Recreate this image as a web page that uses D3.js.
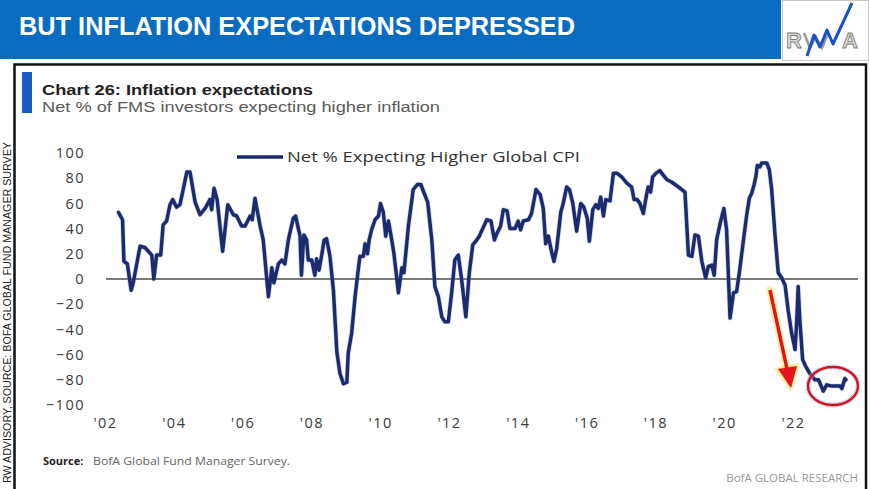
<!DOCTYPE html>
<html>
<head>
<meta charset="utf-8">
<script src="https://cdn.jsdelivr.net/npm/d3@7"></script>
<style>
  html, body { margin: 0; padding: 0; background: #fff; }
  svg { display: block; }
</style>
</head>
<body>
<svg id="chart" width="870" height="489"></svg>
<script>
// ---- data ----
const years = [
  2002.39, 2002.51, 2002.55, 2002.65, 2002.76, 2002.82, 2003.02, 2003.16, 2003.36, 2003.42,
  2003.50, 2003.62, 2003.69, 2003.79, 2003.89, 2003.97, 2004.08, 2004.18, 2004.38, 2004.47,
  2004.62, 2004.76, 2004.91, 2005.05, 2005.10, 2005.17, 2005.26, 2005.42, 2005.57, 2005.73,
  2005.83, 2005.97, 2006.07, 2006.22, 2006.28, 2006.36, 2006.51, 2006.60, 2006.75, 2006.85,
  2006.91, 2007.04, 2007.14, 2007.23, 2007.33, 2007.47, 2007.54, 2007.67, 2007.71, 2007.78,
  2007.86, 2007.91, 2008.01, 2008.10, 2008.15, 2008.22, 2008.30, 2008.37, 2008.44, 2008.54,
  2008.64, 2008.74, 2008.83, 2008.93, 2009.03, 2009.07, 2009.17, 2009.27, 2009.36, 2009.41,
  2009.51, 2009.56, 2009.63, 2009.68, 2009.75, 2009.85, 2009.95, 2010.01, 2010.09, 2010.16,
  2010.24, 2010.31, 2010.40, 2010.53, 2010.63, 2010.69, 2010.82, 2010.96, 2011.08, 2011.18,
  2011.28, 2011.38, 2011.50, 2011.59, 2011.69, 2011.79, 2011.88, 2011.98, 2012.08, 2012.17,
  2012.27, 2012.37, 2012.49, 2012.59, 2012.69, 2012.78, 2012.88, 2012.98, 2013.10, 2013.22,
  2013.32, 2013.39, 2013.50, 2013.58, 2013.69, 2013.77, 2013.92, 2014.01, 2014.08, 2014.16,
  2014.31, 2014.40, 2014.53, 2014.65, 2014.74, 2014.81, 2014.89, 2014.97, 2015.05, 2015.13,
  2015.25, 2015.32, 2015.42, 2015.50, 2015.60, 2015.71, 2015.83, 2015.92, 2016.02, 2016.08,
  2016.18, 2016.27, 2016.34, 2016.41, 2016.49, 2016.56, 2016.68, 2016.78, 2016.88, 2017.02,
  2017.17, 2017.31, 2017.38, 2017.47, 2017.55, 2017.65, 2017.73, 2017.79, 2017.86, 2017.92,
  2018.02, 2018.13, 2018.21, 2018.33, 2018.47, 2018.57, 2018.72, 2018.86, 2018.96, 2019.06,
  2019.15, 2019.25, 2019.35, 2019.46, 2019.54, 2019.64, 2019.71, 2019.78, 2019.88, 2019.99,
  2020.07, 2020.17, 2020.27, 2020.36, 2020.44, 2020.56, 2020.65, 2020.73, 2020.80, 2020.87,
  2020.92, 2020.96, 2021.04, 2021.09, 2021.24, 2021.31, 2021.38, 2021.48, 2021.57, 2021.67,
  2021.77, 2021.86, 2021.96, 2022.06, 2022.11, 2022.15, 2022.20, 2022.28, 2022.38, 2022.49,
  2022.64, 2022.74, 2022.88, 2022.98, 2023.13, 2023.27, 2023.37, 2023.42, 2023.51, 2023.54
];
const netExpectingHigherCPI = [
  53, 47, 14, 12, -9, -3, 26, 25, 19, 0,
  19, 19, 43, 46, 59, 63, 57, 59, 85, 85,
  61, 51, 56, 63, 55, 72, 63, 22, 59, 51,
  50, 42, 42, 50, 47, 64, 42, 31, -14, 9,
  -3, 12, 15, 12, 31, 48, 50, 34, 3, 35,
  31, 15, 15, 3, 16, 7, 19, 31, 32, 18,
  -9, -58, -75, -83, -82, -59, -43, -14, 7, 18,
  18, 28, 20, 31, 39, 47, 50, 60, 53, 34,
  46, 35, 20, -11, 9, 5, 42, 71, 75, 75,
  68, 61, 31, -6, -14, -30, -34, -34, -10, 15,
  19, -1, -30, 5, 27, 30, 34, 40, 47, 46,
  31, 36, 42, 55, 54, 40, 40, 46, 39, 46,
  47, 52, 71, 67, 56, 28, 34, 23, 14, 24,
  53, 60, 73, 71, 60, 38, 60, 57, 48, 30,
  55, 59, 56, 65, 50, 63, 62, 84, 84, 81,
  76, 73, 63, 63, 60, 52, 65, 73, 69, 81,
  84, 86, 83, 79, 77, 75, 72, 69, 19, 18,
  35, 34, 14, 1, 10, 11, 3, 31, 44, 56,
  39, -31, -11, -10, 5, 31, 50, 64, 68, 75,
  81, 90, 89, 92, 92, 87, 71, 34, 5, 1,
  -5, -25, -43, -56, -33, -6, -33, -64, -70, -75,
  -80, -80, -89, -84, -85, -85, -85, -87, -79, -80
];
const yTicks = [100, 80, 60, 40, 20, 0, -20, -40, -60, -80, -100];
const xTickYears = [2002, 2004, 2006, 2008, 2010, 2012, 2014, 2016, 2018, 2020, 2022];
const xTickLabels = ["'02", "'04", "'06", "'08", "'10", "'12", "'14", "'16", "'18", "'20", "'22"];

const headline = "BUT INFLATION EXPECTATIONS DEPRESSED";
const chartTitle = "Chart 26: Inflation expectations";
const chartSubtitle = "Net % of FMS investors expecting higher inflation";
const seriesName = "Net % Expecting Higher Global CPI";
const sideNote = "RW ADVISORY, SOURCE: BOFA GLOBAL FUND MANAGER SURVEY";
const sourceLabel = "Source:";
const sourceText = "BofA Global Fund Manager Survey.";
const footerText = "BofA GLOBAL RESEARCH";

// ---- drawing ----
const svg = d3.select("#chart");
const FONT = "'Open Sans', 'DejaVu Sans', sans-serif";
const FONT_T = "'Liberation Sans', Arial, sans-serif";

// header band
svg.append("rect").attr("x", 0).attr("y", 0).attr("width", 781).attr("height", 59).attr("fill", "#0a6cbf");
svg.append("text").attr("x", 19).attr("y", 35)
  .attr("font-family", FONT_T).attr("font-weight", "bold")
  .attr("font-size", 26).attr("fill", "#fff")
  .attr("textLength", 556).attr("lengthAdjust", "spacingAndGlyphs")
  .text(headline);

// logo
const logo = svg.append("g");
logo.append("rect").attr("x", 782.5).attr("y", 0.5).attr("width", 86).attr("height", 60)
  .attr("fill", "#fff").attr("stroke", "#c8c8c8");
logo.append("text").attr("x", 786).attr("y", 48).attr("font-family", FONT_T)
  .attr("font-weight", "bold").attr("font-size", 22).attr("fill", "#d6d6d6").attr("stroke", "#7a7a7a").attr("stroke-width", 0.8)
  .text("R");
logo.append("text").attr("x", 842).attr("y", 48).attr("font-family", FONT_T)
  .attr("font-weight", "bold").attr("font-size", 22).attr("fill", "#d6d6d6").attr("stroke", "#7a7a7a").attr("stroke-width", 0.8)
  .text("A");
logo.append("path").attr("d", "M804,33 L810,48 L816,37 L822,48 L828,34")
  .attr("fill", "none").attr("stroke", "#9a9a9a").attr("stroke-width", 2.5);
logo.append("path").attr("d", "M807,56 L814,35 L820,47 L827,30 L833,44 L852,3")
  .attr("fill", "none").attr("stroke", "#1552c4").attr("stroke-width", 3).attr("stroke-linejoin", "round");

// chart frame
svg.append("path").attr("d", "M14.5,489 L14.5,64.5 L866,64.5 L866,489")
  .attr("fill", "none").attr("stroke", "#111").attr("stroke-width", 2.5);

// side note
svg.append("text")
  .attr("transform", "translate(10.5,483) rotate(-90)")
  .attr("font-family", FONT_T).attr("font-size", 10.5).attr("fill", "#222")
  .attr("textLength", 341).attr("lengthAdjust", "spacingAndGlyphs")
  .text(sideNote);

// title block
svg.append("rect").attr("x", 22).attr("y", 72).attr("width", 10).attr("height", 41).attr("fill", "#1a5ac6");
svg.append("text").attr("x", 42).attr("y", 95).attr("font-family", FONT_T).attr("font-weight", "bold")
  .attr("font-size", 14.5).attr("fill", "#222").attr("textLength", 271).attr("lengthAdjust", "spacingAndGlyphs")
  .text(chartTitle);
svg.append("text").attr("x", 42).attr("y", 111.5).attr("font-family", FONT_T)
  .attr("font-size", 14).attr("fill", "#5a5a5a").attr("textLength", 398).attr("lengthAdjust", "spacingAndGlyphs")
  .text(chartSubtitle);

// scales
const x = d3.scaleLinear().domain([2002, 2022]).range([105, 793]);
const y = d3.scaleLinear().domain([-100, 100]).range([405, 153]);

// y axis
const yAxis = svg.append("g").attr("transform", "translate(88,0)")
  .call(d3.axisLeft(y).tickValues(yTicks).tickSize(0).tickPadding(3).tickFormat(d3.format("d")));
yAxis.select(".domain").remove();
yAxis.selectAll("text").attr("font-family", FONT).attr("font-size", 14.5).attr("fill", "#3a3a3a")
  .attr("letter-spacing", 1.5);

// x axis
const xAxis = svg.append("g").attr("transform", "translate(0,418)")
  .call(d3.axisBottom(x).tickValues(xTickYears).tickSize(0).tickPadding(0).tickFormat((d, i) => xTickLabels[i]));
xAxis.select(".domain").remove();
xAxis.selectAll("text").attr("font-family", FONT).attr("font-size", 14.5).attr("fill", "#3a3a3a")
  .attr("letter-spacing", 1.5);

// zero line
svg.append("line").attr("x1", 106).attr("x2", 858).attr("y1", y(0)).attr("y2", y(0))
  .attr("stroke", "#7a7a7a").attr("stroke-width", 2);

// series line
const series = years.map((t, i) => ({ t, v: netExpectingHigherCPI[i] }));
const line = d3.line().x(d => x(d.t)).y(d => y(d.v));
svg.append("path").datum(series).attr("d", line)
  .attr("fill", "none").attr("stroke", "#8a96c0").attr("stroke-width", 5).attr("stroke-opacity", 0.35)
  .attr("stroke-linejoin", "round");
svg.append("path").datum(series).attr("d", line)
  .attr("fill", "none").attr("stroke", "#1b2b6e").attr("stroke-width", 3.5)
  .attr("stroke-linejoin", "round").attr("stroke-linecap", "round");

// legend
svg.append("line").attr("x1", 237).attr("x2", 283).attr("y1", 157).attr("y2", 157)
  .attr("stroke", "#1b2b6e").attr("stroke-width", 3.5);
svg.append("text").attr("x", 287).attr("y", 162).attr("font-family", FONT).attr("font-size", 14.5)
  .attr("fill", "#333").attr("textLength", 293).attr("lengthAdjust", "spacingAndGlyphs")
  .text(seriesName);

// red arrow annotation
const arrow = svg.append("g");
arrow.append("line").attr("x1", 770).attr("y1", 290).attr("x2", 787).attr("y2", 370)
  .attr("stroke", "#f6ea7a").attr("stroke-width", 8).attr("stroke-opacity", 0.6).attr("stroke-linecap", "round");
arrow.append("path").attr("d", "M777,369 L798,365 L791,389 Z").attr("fill", "#f6ea7a").attr("fill-opacity", 0.6)
  .attr("stroke", "#f6ea7a").attr("stroke-width", 4).attr("stroke-opacity", 0.6).attr("stroke-linejoin", "round");
arrow.append("line").attr("x1", 770).attr("y1", 290).attr("x2", 787).attr("y2", 369)
  .attr("stroke", "#e5141c").attr("stroke-width", 3.5);
arrow.append("path").attr("d", "M778,369 L797,366 L791,388 Z").attr("fill", "#e5141c");

// ellipse annotation
svg.append("ellipse").attr("cx", 833).attr("cy", 386).attr("rx", 25).attr("ry", 19)
  .attr("fill", "none").attr("stroke", "#aab8e0").attr("stroke-width", 5).attr("stroke-opacity", 0.5);
svg.append("ellipse").attr("cx", 833).attr("cy", 386).attr("rx", 25).attr("ry", 19)
  .attr("fill", "none").attr("stroke", "#d0141e").attr("stroke-width", 2.4);

// source & footer
svg.append("text").attr("x", 43).attr("y", 465).attr("font-family", FONT).attr("font-weight", "bold")
  .attr("font-size", 11).attr("fill", "#222").text(sourceLabel);
svg.append("text").attr("x", 93).attr("y", 465).attr("font-family", FONT)
  .attr("font-size", 11.5).attr("fill", "#666").attr("textLength", 197).attr("lengthAdjust", "spacingAndGlyphs")
  .text(sourceText);
svg.append("text").attr("x", 858).attr("y", 482).attr("text-anchor", "end").attr("font-family", FONT)
  .attr("font-size", 11.5).attr("fill", "#999").text(footerText);
</script>
</body>
</html>
